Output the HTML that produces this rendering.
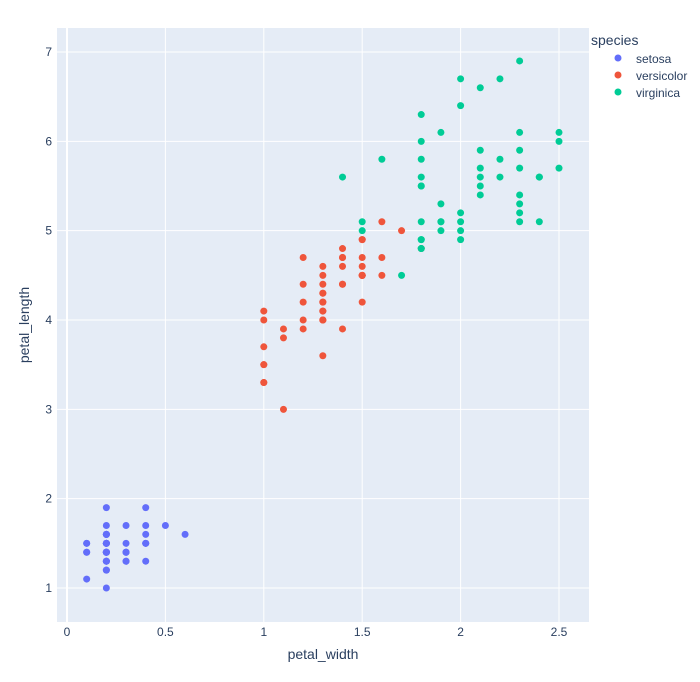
<!DOCTYPE html>
<html><head><meta charset="utf-8"><style>
body{margin:0;background:#fff;}
svg text{font-family:"Liberation Sans",sans-serif;}
</style></head><body>
<svg id="s" width="700" height="677" xmlns="http://www.w3.org/2000/svg">
<rect x="0" y="0" width="700" height="677" fill="#fff"/>
<rect x="57" y="28" width="532" height="594" fill="#E5ECF6"/>
<g id="grid"></g>
<g id="pts"></g>
<text x="323" y="659" font-size="14" fill="#2a3f5f" text-anchor="middle">petal_width</text>
<text transform="translate(29,325) rotate(-90)" font-size="14" fill="#2a3f5f" text-anchor="middle">petal_length</text>
<text x="591" y="45" font-size="14" fill="#2a3f5f">species</text>
<circle cx="618" cy="58" r="3.5" fill="#636efa"/><text x="636" y="63" font-size="12" fill="#2a3f5f">setosa</text>
<circle cx="618" cy="75" r="3.5" fill="#EF553B"/><text x="636" y="80" font-size="12" fill="#2a3f5f">versicolor</text>
<circle cx="618" cy="92" r="3.5" fill="#00cc96"/><text x="636" y="97" font-size="12" fill="#2a3f5f">virginica</text>
</svg>
<script>
var X=function(v){return 67+v*196.8;},Y=function(v){return 588-(v-1)*89.33;};
var ns="http://www.w3.org/2000/svg",g=document.getElementById('grid'),p=document.getElementById('pts');
function el(parent,t,a,txt){var e=document.createElementNS(ns,t);for(var k in a)e.setAttribute(k,a[k]);if(txt!=null)e.textContent=txt;parent.appendChild(e);}
[0,0.5,1,1.5,2,2.5].forEach(function(v){var x=X(v);el(g,'line',{x1:x,x2:x,y1:28,y2:622,stroke:'#fff','stroke-width':v==0?2:1});el(g,'text',{x:x,y:636,'font-size':12,fill:'#2a3f5f','text-anchor':'middle'},String(v));});
[1,2,3,4,5,6,7].forEach(function(v){var y=Y(v);el(g,'line',{x1:57,x2:589,y1:y,y2:y,stroke:'#fff','stroke-width':1});el(g,'text',{x:52,y:y+4,'font-size':12,fill:'#2a3f5f','text-anchor':'end'},String(v));});
var se="1.4,0.2 1.4,0.2 1.3,0.2 1.5,0.2 1.4,0.2 1.7,0.4 1.4,0.3 1.5,0.2 1.4,0.2 1.5,0.1 1.5,0.2 1.6,0.2 1.4,0.1 1.1,0.1 1.2,0.2 1.5,0.4 1.3,0.4 1.4,0.3 1.7,0.3 1.5,0.3 1.7,0.2 1.5,0.4 1.0,0.2 1.7,0.5 1.9,0.2 1.6,0.2 1.6,0.4 1.5,0.2 1.4,0.2 1.6,0.2 1.6,0.2 1.5,0.4 1.5,0.1 1.4,0.2 1.5,0.2 1.2,0.2 1.3,0.2 1.4,0.1 1.3,0.2 1.5,0.2 1.3,0.3 1.3,0.3 1.3,0.2 1.6,0.6 1.9,0.4 1.4,0.3 1.6,0.2 1.4,0.2 1.5,0.2 1.4,0.2";
var ve="4.7,1.4 4.5,1.5 4.9,1.5 4.0,1.3 4.6,1.5 4.5,1.3 4.7,1.6 3.3,1.0 4.6,1.3 3.9,1.4 3.5,1.0 4.2,1.5 4.0,1.0 4.7,1.4 3.6,1.3 4.4,1.4 4.5,1.5 4.1,1.0 4.5,1.5 3.9,1.1 4.8,1.8 4.0,1.3 4.9,1.5 4.7,1.2 4.3,1.3 4.4,1.4 4.8,1.4 5.0,1.7 4.5,1.5 3.5,1.0 3.8,1.1 3.7,1.0 3.9,1.2 5.1,1.6 4.5,1.5 4.5,1.6 4.7,1.5 4.4,1.3 4.1,1.3 4.0,1.3 4.4,1.2 4.6,1.4 4.0,1.2 3.3,1.0 4.2,1.3 4.2,1.2 4.2,1.3 4.3,1.3 3.0,1.1 4.1,1.3";
var vi="6.0,2.5 5.1,1.9 5.9,2.1 5.6,1.8 5.8,2.2 6.6,2.1 4.5,1.7 6.3,1.8 5.8,1.8 6.1,2.5 5.1,2.0 5.3,1.9 5.5,2.1 5.0,2.0 5.1,2.4 5.3,2.3 5.5,1.8 6.7,2.2 6.9,2.3 5.0,1.5 5.7,2.3 4.9,2.0 6.7,2.0 4.9,1.8 5.7,2.1 6.0,1.8 4.8,1.8 4.9,1.8 5.6,2.1 5.8,1.6 6.1,1.9 6.4,2.0 5.6,2.2 5.1,1.5 5.6,1.4 6.1,2.3 5.6,2.4 5.5,1.8 4.8,1.8 5.4,2.1 5.6,2.4 5.1,2.3 5.1,1.9 5.9,2.3 5.7,2.5 5.2,2.3 5.0,1.9 5.2,2.0 5.4,2.3 5.1,1.8";
[[se,'#636efa'],[ve,'#EF553B'],[vi,'#00cc96']].forEach(function(d){d[0].split(' ').forEach(function(s){var a=s.split(',');el(p,'circle',{cx:X(+a[1]),cy:Y(+a[0]),r:3.5,fill:d[1]});});});
</script>
</body></html>
